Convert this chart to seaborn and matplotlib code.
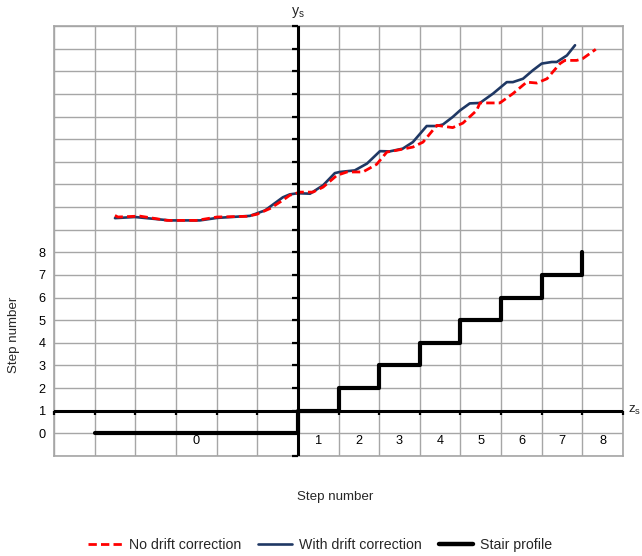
import numpy as np
import pandas as pd
import matplotlib
matplotlib.use("Agg")
import matplotlib.pyplot as plt
import matplotlib.transforms as mtransforms
from matplotlib.lines import Line2D
from matplotlib.markers import TICKLEFT, TICKDOWN
import seaborn as sns

# Position signal without drift correction (x in step units, y in plot units)
no_drift_x = [-4.50, -4.43, -3.89, -3.22, -2.49, -1.99, -1.25, -1.01, -0.69, -0.37,
              -0.20, 0.05, 0.37, 0.62, 0.96, 1.21, 1.60, 1.94, 2.19, 2.44,
              2.83, 3.08, 3.42, 3.81, 4.06, 4.40, 4.48, 4.97, 5.29, 5.63,
              5.88, 6.13, 6.45, 6.57, 6.86, 7.01, 7.33]
no_drift_y = [9.63, 9.56, 9.60, 9.41, 9.41, 9.56, 9.59, 9.68, 9.93, 10.30,
              10.52, 10.66, 10.66, 10.88, 11.40, 11.55, 11.55, 11.89, 12.43, 12.51,
              12.65, 12.87, 13.61, 13.51, 13.71, 14.27, 14.60, 14.60, 15.01, 15.52,
              15.48, 15.67, 16.34, 16.48, 16.48, 16.56, 16.97]

# Position signal with drift correction
drift_x = [-4.50, -4.01, -3.15, -2.41, -1.99, -1.18, -0.81, -0.37, -0.20, 0.00,
           0.30, 0.62, 0.91, 1.03, 1.40, 1.70, 2.02, 2.26, 2.58, 2.83,
           3.17, 3.42, 3.57, 3.81, 3.99, 4.23, 4.48, 4.80, 5.14, 5.29,
           5.54, 5.78, 6.00, 6.25, 6.37, 6.62, 6.82]
drift_y = [9.51, 9.56, 9.41, 9.41, 9.52, 9.61, 9.85, 10.43, 10.56, 10.61,
           10.59, 10.96, 11.50, 11.55, 11.62, 11.92, 12.47, 12.46, 12.58, 12.87,
           13.58, 13.58, 13.65, 13.98, 14.27, 14.58, 14.60, 15.01, 15.52, 15.52,
           15.67, 16.04, 16.34, 16.41, 16.41, 16.70, 17.15]

# Stair profile: start of each step and its level
stair_x = [-5, 0, 1, 2, 3, 4, 5, 6, 7]
stair_y = [0, 1, 2, 3, 4, 5, 6, 7, 8]

# Axis annotation
step_labels = ["0", "1", "2", "3", "4", "5", "6", "7", "8"]
step_label_pos = [-2.5, 0.5, 1.5, 2.5, 3.5, 4.5, 5.5, 6.5, 7.5]
level_ticks = [0, 1, 2, 3, 4, 5, 6, 7, 8]

sns.set_theme(style="white")
plt.rcParams["font.family"] = ["Liberation Sans", "DejaVu Sans"]
plt.rcParams["mathtext.fontset"] = "custom"
plt.rcParams["mathtext.rm"] = "Liberation Sans"
plt.rcParams["mathtext.it"] = "Liberation Sans"

RED = "#ff0000"
NAVY = "#1f3864"
GRID = "#a6a6a6"
FS = 9.2

fig = plt.figure(figsize=(6.42, 5.56), dpi=100)
W, H = 642, 556
ax = fig.add_axes([54 / W, 1 - 456 / H, 569 / W, 430 / H])
ax.set_xlim(-6, 8)
ax.set_ylim(-1, 18)

# grid every unit on both axes
xgrid = np.arange(-6, 9)
ygrid = np.arange(-1, 19)
ax.set_xticks(xgrid)
ax.set_xticklabels([])
ax.set_yticks(ygrid)
ax.set_yticklabels([str(v) if v in level_ticks else "" for v in ygrid])
ax.tick_params(axis="both", length=0, labelsize=FS, colors="#000000")
ax.tick_params(axis="y", pad=6)
ax.grid(True, color=GRID, linewidth=1)
for sp in ax.spines.values():
    sp.set_color(GRID)
    sp.set_linewidth(1.2)

# curves
sns.lineplot(x=no_drift_x, y=no_drift_y, ax=ax, color=RED, linewidth=2.0,
             sort=False, estimator=None, dashes=False, zorder=4)
ax.lines[-1].set_dashes((3.0, 1.5))
sns.lineplot(x=drift_x, y=drift_y, ax=ax, color=NAVY, linewidth=1.9,
             sort=False, estimator=None, zorder=3)

# stair profile
sns.lineplot(x=stair_x, y=stair_y, ax=ax, color="black", linewidth=3.0,
             sort=False, estimator=None, drawstyle="steps-post", zorder=5)

# crossing axes with tick marks
ax.axvline(0, color="black", linewidth=2.2, zorder=6)
ax.axhline(1, color="black", linewidth=2.2, zorder=6)
ax.plot(np.zeros_like(ygrid), ygrid, linestyle="none", marker=TICKLEFT,
        markersize=4, markeredgewidth=1.6, color="black", zorder=6, clip_on=False)
ax.plot(xgrid, np.ones_like(xgrid), linestyle="none", marker=TICKDOWN,
        markersize=3, markeredgewidth=1.6, color="black", zorder=6, clip_on=False)

# step labels under the zero level
for pos, lab in zip(step_label_pos, step_labels):
    ax.text(pos, -0.32, lab, ha="center", va="center", fontsize=FS, color="black")

# axis names
ax.text(0, 1.0 + 14 / 430, r"$\mathregular{y_s}$",
        transform=mtransforms.blended_transform_factory(ax.transData, ax.transAxes),
        ha="center", va="center", fontsize=FS + 1)
ax.text(1.0 + 5 / 569, 1, r"$\mathregular{z_s}$",
        transform=mtransforms.blended_transform_factory(ax.transAxes, ax.transData),
        ha="left", va="center", fontsize=FS + 0.5, clip_on=False)
fig.text(335 / W, 1 - 497 / H, "Step number", ha="center", va="center", fontsize=9.6)
fig.text(14 / W, 1 - 335 / H, "Step number", ha="center", va="center", rotation=90,
         fontsize=9.6)

handles = [
    Line2D([], [], color=RED, linewidth=2.0, dashes=(3.0, 1.5)),
    Line2D([], [], color=NAVY, linewidth=1.9),
    Line2D([], [], color="black", linewidth=3.2),
]
labels = ["No drift correction", "With drift correction", "Stair profile"]
fig.legend(handles, labels, loc="center", bbox_to_anchor=(320 / W, 1 - 545 / H),
           ncol=3, frameon=False, fontsize=10.2, handlelength=2.4, handletextpad=0.5,
           columnspacing=1.2)

fig.savefig("out.png", dpi=100)
